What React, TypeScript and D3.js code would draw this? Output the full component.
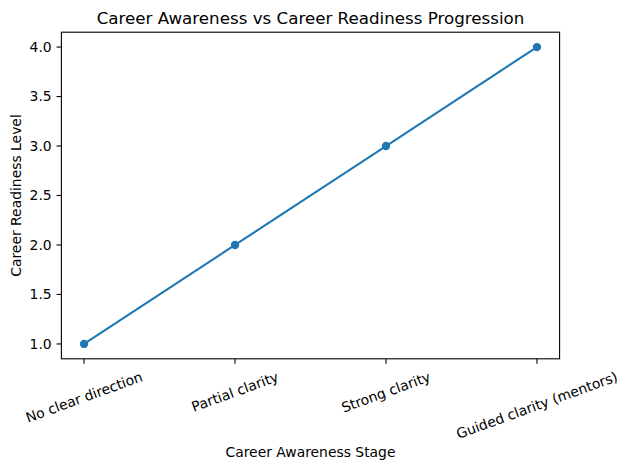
import React from "react";
import * as d3 from "d3";

const categories = ["No clear direction", "Partial clarity", "Strong clarity", "Guided clarity (mentors)"];
const values = [1, 2, 3, 4];
const yTicks = [1.0, 1.5, 2.0, 2.5, 3.0, 3.5, 4.0];

const W = 629, H = 470;
const left = 61.4, right = 559.6, top = 32.2, bottom = 358.8;
const FONT = "DejaVu Sans, sans-serif";
const FS = 13.9;
const COLOR = "#1f77b4";

function measure(text: string, size: number) {
  const c = document.createElement("canvas").getContext("2d");
  if (!c) return text.length * size * 0.6;
  c.font = `${size}px DejaVu Sans`;
  return c.measureText(text).width;
}

export default function App() {
  const x = d3.scaleLinear().domain([-0.15, categories.length - 1 + 0.15]).range([left, right]);
  const y = d3.scaleLinear().domain([0.85, 4.15]).range([bottom, top]);
  const line = d3.line<number>().x((_, i) => x(i)).y((v) => y(v));
  const ang = (20 * Math.PI) / 180;
  const textH = FS * 1.16;
  const labelTop = bottom + 4.86 + 4.86;

  return (
    <svg width={W} height={H} style={{ position: "absolute", left: 0, top: 0 }} fontFamily={FONT}>
      <rect width={W} height={H} fill="white" />
      <text x={(left + right) / 2} y={24} textAnchor="middle" fontSize={16.7} fill="black">
        Career Awareness vs Career Readiness Progression
      </text>
      {yTicks.map((t) => (
        <g key={t}>
          <line x1={left - 4.86} x2={left} y1={y(t)} y2={y(t)} stroke="black" strokeWidth={1.1} />
          <text x={left - 4.86 - 4.86} y={y(t)} dy="0.35em" textAnchor="end" fontSize={FS} fill="black">
            {t.toFixed(1)}
          </text>
        </g>
      ))}
      {categories.map((c, i) => {
        const w = measure(c, FS);
        const bh = w * Math.sin(ang) + textH * Math.cos(ang);
        const cy = labelTop + bh / 2;
        return (
          <g key={c}>
            <line x1={x(i)} x2={x(i)} y1={bottom} y2={bottom + 4.86} stroke="black" strokeWidth={1.1} />
            <text
              x={x(i)}
              y={cy}
              textAnchor="middle"
              dy="0.35em"
              fontSize={FS}
              fill="black"
              transform={`rotate(-20 ${x(i)} ${cy})`}
            >
              {c}
            </text>
          </g>
        );
      })}
      <path d={line(values) || ""} fill="none" stroke={COLOR} strokeWidth={2.08} />
      {values.map((v, i) => (
        <circle key={i} cx={x(i)} cy={y(v)} r={4.17} fill={COLOR} />
      ))}
      <rect x={left} y={top} width={right - left} height={bottom - top} fill="none" stroke="black" strokeWidth={1.1} />
      <text x={(left + right) / 2} y={457} textAnchor="middle" fontSize={FS} fill="black">
        Career Awareness Stage
      </text>
      <text
        x={0}
        y={0}
        textAnchor="middle"
        fontSize={FS}
        fill="black"
        transform={`translate(21 ${(top + bottom) / 2}) rotate(-90)`}
      >
        Career Readiness Level
      </text>
    </svg>
  );
}
